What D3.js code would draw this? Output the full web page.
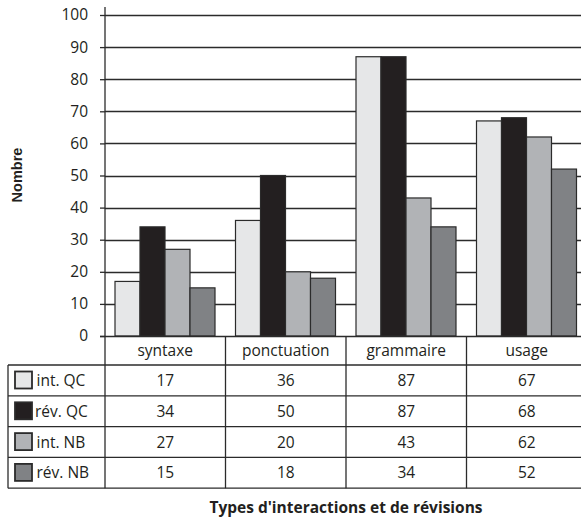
<!DOCTYPE html>
<html>
<head>
<meta charset="utf-8">
<script src="https://cdn.jsdelivr.net/npm/d3@7/dist/d3.min.js"></script>
<style>
  html, body { margin: 0; padding: 0; background: #fff; }
  svg { display: block; }
  text { font-family: "Open Sans", Lato, sans-serif; fill: #231f20; }
</style>
</head>
<body>
<svg id="chart" width="581" height="519"></svg>
<script>
// Categories and series
const categories = ["syntaxe", "ponctuation", "grammaire", "usage"];
const seriesNames = ["int. QC", "rév. QC", "int. NB", "rév. NB"];
const intQC = [17, 36, 87, 67];
const revQC = [34, 50, 87, 68];
const intNB = [27, 20, 43, 62];
const revNB = [15, 18, 34, 52];
const seriesValues = [intQC, revQC, intNB, revNB];
const seriesColors = ["#e6e7e8", "#231f20", "#b1b3b6", "#808285"];
const yTicks = [0, 10, 20, 30, 40, 50, 60, 70, 80, 90, 100];
const yTitle = "Nombre";
const xTitle = "Types d'interactions et de révisions";

const svg = d3.select("#chart");
const lineColor = "#2b2b2b";
const fontMain = "'Open Sans', Lato, sans-serif";
const fontSize = "15.5px";

const plotLeft = 105, plotRight = 587, plotTop = 15, plotBottom = 336;
const tableLeft = 8;
const headerH = 29, rowH = 30.8;

const x0 = d3.scaleBand().domain(categories).range([plotLeft, plotRight]).padding(0);
const x1 = d3.scaleBand().domain(seriesNames).range([10, x0.bandwidth() - 10.5]).padding(0);
const y = d3.scaleLinear().domain([0, 100]).range([plotBottom, plotTop]);

// Horizontal grid lines
svg.append("g")
  .selectAll("line")
  .data(yTicks.filter(d => d > 0))
  .join("line")
  .attr("x1", plotLeft).attr("x2", 581)
  .attr("y1", d => Math.round(y(d)) + 0.5).attr("y2", d => Math.round(y(d)) + 0.5)
  .attr("stroke", lineColor).attr("stroke-width", 1.3);

// Bars
const groups = svg.append("g")
  .selectAll("g")
  .data(categories)
  .join("g")
  .attr("transform", d => `translate(${x0(d)},0)`);

groups.selectAll("rect")
  .data((c, ci) => seriesNames.map((s, si) => ({ s, si, v: seriesValues[si][ci] })))
  .join("rect")
  .attr("x", d => x1(d.s))
  .attr("y", d => y(d.v))
  .attr("width", x1.bandwidth())
  .attr("height", d => y(0) - y(d.v))
  .attr("fill", d => seriesColors[d.si])
  .attr("stroke", lineColor)
  .attr("stroke-width", 1.2);

// Y axis
const yAxis = svg.append("g")
  .attr("transform", `translate(${plotLeft},0)`)
  .call(d3.axisLeft(y).tickValues(yTicks).tickSize(5).tickPadding(12));
yAxis.select(".domain").attr("stroke", lineColor).attr("stroke-width", 1.3)
  .attr("d", `M0,${plotBottom}V${plotTop - 8}`);
yAxis.selectAll(".tick line").attr("stroke", lineColor).attr("stroke-width", 1.3);
yAxis.selectAll(".tick text")
  .style("font-family", fontMain)
  .style("font-size", fontSize)
  .attr("fill", "#231f20");

// X baseline
svg.append("line")
  .attr("x1", plotLeft - 5).attr("x2", 581)
  .attr("y1", plotBottom + 0.5).attr("y2", plotBottom + 0.5)
  .attr("stroke", lineColor).attr("stroke-width", 1.3);

// Data table under the plot
const table = svg.append("g");
const tableTop = plotBottom;
const rowsTop = tableTop + headerH;
const tableBottom = rowsTop + rowH * seriesNames.length;

// Vertical column separators
const colEdges = categories.map(c => x0(c)).concat([plotRight]);
table.selectAll("line.col")
  .data(colEdges)
  .join("line")
  .attr("class", "col")
  .attr("x1", d => d).attr("x2", d => d)
  .attr("y1", tableTop).attr("y2", tableBottom)
  .attr("stroke", lineColor).attr("stroke-width", 1.3);

// Left border of legend column
table.append("line")
  .attr("x1", tableLeft).attr("x2", tableLeft)
  .attr("y1", rowsTop).attr("y2", tableBottom)
  .attr("stroke", lineColor).attr("stroke-width", 1.3);

// Row separators
const rowEdges = d3.range(seriesNames.length + 1).map(i => rowsTop + i * rowH);
table.selectAll("line.row")
  .data(rowEdges)
  .join("line")
  .attr("class", "row")
  .attr("x1", tableLeft).attr("x2", 581)
  .attr("y1", d => d).attr("y2", d => d)
  .attr("stroke", lineColor).attr("stroke-width", 1.3);

// Category header labels
table.selectAll("text.cat")
  .data(categories)
  .join("text")
  .attr("class", "cat")
  .attr("x", d => x0(d) + x0.bandwidth() / 2)
  .attr("y", tableTop + headerH / 2 + 5.5)
  .attr("text-anchor", "middle")
  .style("font-size", fontSize)
  .text(d => d);

// Legend swatches, labels and values
seriesNames.forEach((s, si) => {
  const ry = rowsTop + si * rowH;
  table.append("rect")
    .attr("x", 15).attr("y", ry + 6.5)
    .attr("width", 17).attr("height", 17)
    .attr("fill", seriesColors[si])
    .attr("stroke", lineColor).attr("stroke-width", 1.8);
  table.append("text")
    .attr("x", si === 1 ? 35 : 36.5)
    .attr("y", ry + rowH / 2 + 5.5)
    .style("font-size", fontSize)
    .text(s);
  categories.forEach((c, ci) => {
    table.append("text")
      .attr("x", x0(c) + x0.bandwidth() / 2)
      .attr("y", ry + rowH / 2 + 5.5)
      .attr("text-anchor", "middle")
      .style("font-size", fontSize)
      .text(seriesValues[si][ci]);
  });
});

// Axis titles
svg.append("text")
  .attr("transform", `translate(22,175) rotate(-90)`)
  .attr("text-anchor", "middle")
  .style("font-family", "'Liberation Sans', Arial, sans-serif")
  .style("font-weight", "bold")
  .style("font-size", "14.5px")
  .text(yTitle);

svg.append("text")
  .attr("x", (plotLeft + plotRight) / 2)
  .attr("y", 513)
  .attr("text-anchor", "middle")
  .style("font-weight", "bold")
  .style("font-size", "15.5px")
  .text(xTitle);
</script>
</body>
</html>
